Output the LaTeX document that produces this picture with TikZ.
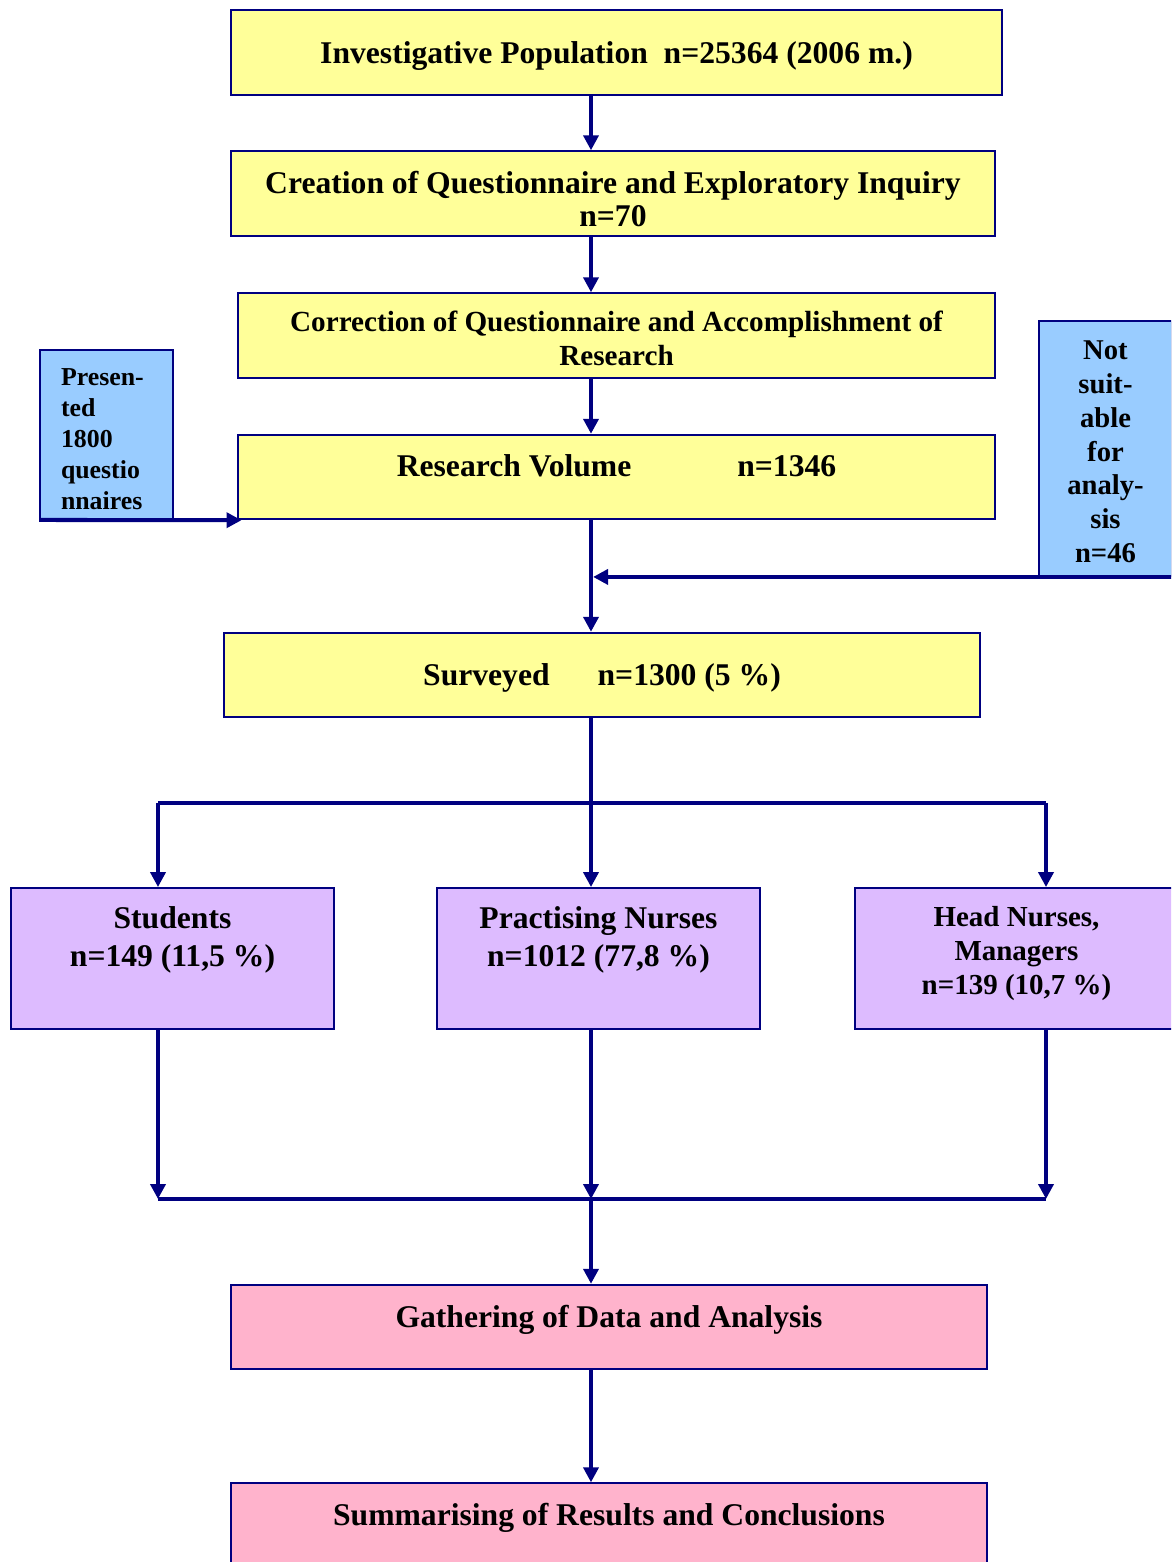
\documentclass[tikz,border=0pt]{standalone}
\usepackage{fontspec}
\setmainfont{Liberation Serif}
\usetikzlibrary{arrows.meta}
\definecolor{navyline}{HTML}{000080}
\definecolor{boxyellow}{HTML}{FFFF99}
\definecolor{boxblue}{HTML}{99CCFF}
\definecolor{boxlilac}{HTML}{DDBBFF}
\definecolor{boxpink}{HTML}{FFB3CC}
\newcommand{\bigtext}{\bfseries\fontsize{18}{19.3}\selectfont}
\newcommand{\topgap}[1]{\rule{0pt}{#1}}
\begin{document}
\begin{tikzpicture}[x=0.02cm, y=-0.02cm,
	box/.style={draw=navyline, line width=1.1pt, align=center, inner sep=0pt, font=\bigtext},
	ybox/.style={box, fill=boxyellow, minimum height=1.69cm},
	sidebox/.style={box, fill=boxblue, minimum width=2.66cm},
	groupbox/.style={box, fill=boxlilac, minimum width=6.46cm, minimum height=2.82cm},
	pbox/.style={box, fill=boxpink, minimum width=15.12cm, minimum height=1.69cm, text depth=12.5pt},
	line/.style={navyline, line width=2.3pt},
	arr/.style={line, -{Triangle[length=8.5pt,width=8.5pt]}}]
	\path[use as bounding box, clip] (0,0) rectangle (1171,1562);
	%main column
	\node[ybox, minimum width=15.42cm, text depth=0pt] (inv) at (616.5,52.5) {Investigative Population\ \ n=25364 (2006 m.)};
	\node[ybox, minimum width=15.28cm] (cre) at (613,193.5) {\topgap{19pt}Creation of Questionnaire and Exploratory Inquiry\\n=70};
	\node[ybox, minimum width=15.14cm, font=\bfseries\fontsize{16.6}{19.3}\selectfont] (cor) at (616.5,335.5) {\topgap{14.7pt}Correction of Questionnaire and Accomplishment of\\Research};
	\node[ybox, minimum width=15.14cm, text depth=12.5pt] (rv) at (616.5,477) {Research Volume\hspace{2.12cm}n=1346};
	\node[ybox, minimum width=15.12cm, text depth=0pt] (surv) at (602,675) {Surveyed\hspace{0.96cm}n=1300 (5 \%)};
	%side boxes
	\node[sidebox, minimum height=3.38cm, align=left, text width=1.82cm, font=\bfseries\fontsize{14.7}{17.6}\selectfont] (pres) at (106.5,434.5) {\topgap{15.3pt}Presen-\\ted\\1800\\questio\\nnaires};
	\node[sidebox, minimum height=5.10cm, font=\bfseries\fontsize{16.3}{19.2}\selectfont] (ns) at (1105.5,448.5) {\topgap{14.5pt}Not\\suit-\\able\\for\\analy-\\sis\\n=46};
	%groups
	\node[groupbox, font=\bfseries\fontsize{18}{21.5}\selectfont, text depth=25pt] (stud) at (172.5,958.5) {Students\\n=149 (11,5 \%)};
	\node[groupbox, font=\bfseries\fontsize{18}{21.5}\selectfont, text depth=25pt] (prac) at (598.5,958.5) {Practising Nurses\\n=1012 (77,8 \%)};
	\node[groupbox, font=\bfseries\fontsize{16.5}{19.3}\selectfont, text depth=9pt] (head) at (1016.5,958.5) {Head Nurses,\\Managers\\n=139 (10,7 \%)};
	%results
	\node[pbox] (gath) at (609,1327) {Gathering of Data and Analysis};
	\node[pbox] (summ) at (609,1525.5) {Summarising of Results and Conclusions};
	%connectors
	\coordinate (mid) at (591,0);
	\coordinate (split) at (591,803);
	\coordinate (splitl) at (158,803);
	\coordinate (splitr) at (1046,803);
	\coordinate (join) at (591,1199);
	\coordinate (joinl) at (158,1199);
	\coordinate (joinr) at (1046,1199);
	\draw[arr] (inv.south -| mid) -- (cre.north -| mid);
	\draw[arr] (cre.south -| mid) -- (cor.north -| mid);
	\draw[arr] (cor.south -| mid) -- (rv.north -| mid);
	\draw[arr] (rv.south -| mid) -- (surv.north -| mid);
	\draw[arr, shorten >=1.2pt] (ns.south east) -- (ns.south -| mid);
	\draw[arr, shorten >=-2.5pt] (pres.south west) -- (rv.south west);
	\draw[line] (surv.south -| mid) -- (split);
	\draw[line] (splitl) -- (splitr);
	\draw[arr] (splitl) -- (stud.north -| splitl);
	\draw[arr] (split) -- (prac.north -| split);
	\draw[arr] (splitr) -- (head.north -| splitr);
	\draw[arr] (stud.south -| splitl) -- (joinl);
	\draw[arr] (prac.south -| split) -- (join);
	\draw[arr] (head.south -| splitr) -- (joinr);
	\draw[line] (joinl) -- (joinr);
	\draw[arr] (join) -- (gath.north -| join);
	\draw[arr] (gath.south -| join) -- (summ.north -| join);
\end{tikzpicture}
\end{document}
